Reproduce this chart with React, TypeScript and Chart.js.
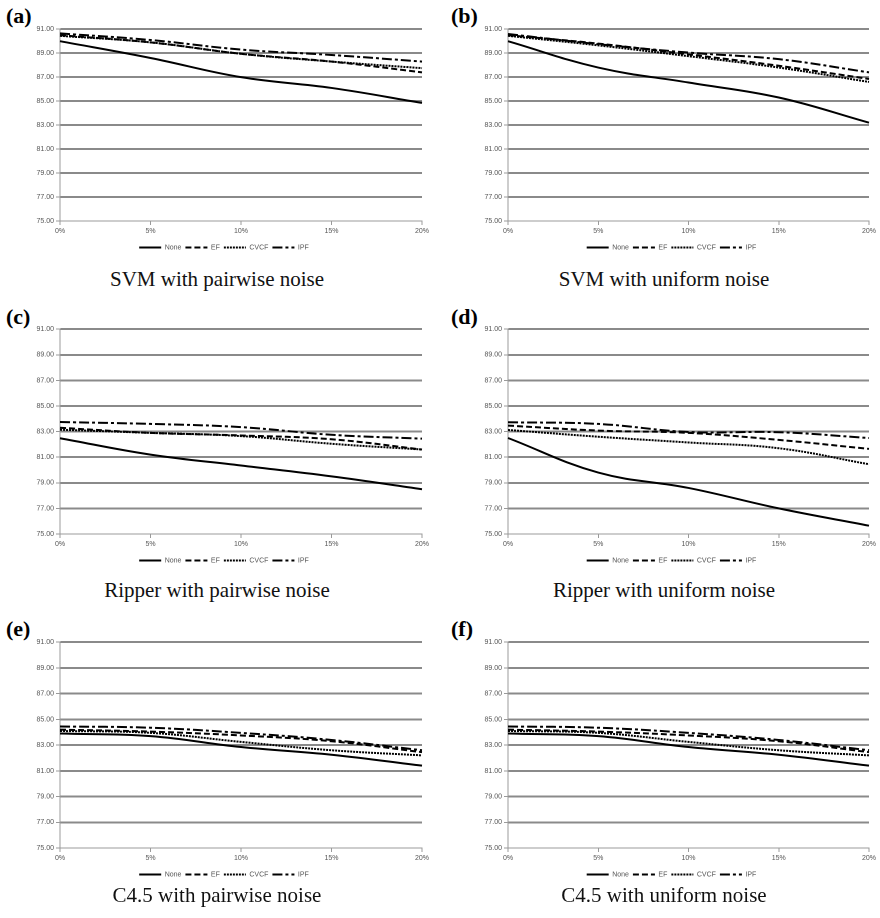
import React, { useEffect, useRef } from "react";
import { Chart, registerables } from "chart.js";

Chart.register(...registerables);

// ---------- data ----------
const noiseLevels = ["0%", "5%", "10%", "15%", "20%"];
const seriesNames = ["None", "EF", "CVCF", "IPF"];
const yMin = 75;
const yMax = 91;
const yStep = 2;

// (a) SVM with pairwise noise
const svmPairNone = [90.0, 88.6, 87.0, 86.1, 84.85];
const svmPairEF = [90.5, 89.9, 88.95, 88.3, 87.4];
const svmPairCVCF = [90.45, 89.9, 88.95, 88.3, 87.75];
const svmPairIPF = [90.65, 90.1, 89.3, 88.85, 88.3];

// (b) SVM with uniform noise
const svmUniNone = [90.0, 87.8, 86.55, 85.3, 83.2];
const svmUniEF = [90.5, 89.8, 88.9, 87.95, 86.85];
const svmUniCVCF = [90.45, 89.65, 88.75, 87.8, 86.6];
const svmUniIPF = [90.6, 89.75, 89.05, 88.5, 87.4];

// (c) Ripper with pairwise noise
const ripPairNone = [82.48, 81.2, 80.35, 79.5, 78.5];
const ripPairEF = [83.3, 82.9, 82.7, 82.4, 81.6];
const ripPairCVCF = [83.15, 82.9, 82.65, 82.05, 81.6];
const ripPairIPF = [83.75, 83.6, 83.35, 82.75, 82.45];

// (d) Ripper with uniform noise
const ripUniNone = [82.5, 79.8, 78.6, 77.0, 75.65];
const ripUniEF = [83.47, 83.08, 82.9, 82.35, 81.65];
const ripUniCVCF = [83.13, 82.6, 82.15, 81.7, 80.45];
const ripUniIPF = [83.73, 83.6, 82.97, 82.95, 82.5];

// (e) C4.5 with pairwise noise
const c45PairNone = [83.9, 83.7, 82.85, 82.25, 81.4];
const c45PairEF = [84.2, 84.05, 83.75, 83.3, 82.45];
const c45PairCVCF = [84.1, 83.95, 83.25, 82.6, 82.2];
const c45PairIPF = [84.45, 84.35, 83.95, 83.4, 82.6];

// (f) C4.5 with uniform noise
const c45UniNone = [83.9, 83.7, 82.85, 82.25, 81.4];
const c45UniEF = [84.2, 84.05, 83.75, 83.3, 82.45];
const c45UniCVCF = [84.1, 83.95, 83.25, 82.6, 82.2];
const c45UniIPF = [84.45, 84.35, 83.95, 83.4, 82.6];

// ---------- styles ----------
const dashes: number[][] = [[], [6, 3], [2, 1], [10, 3, 3, 3]];
const Y_AXIS_W = 34;
const X_AXIS_H = 19;
const PAD_TOP = 6;
const PAD_RIGHT = 14;
const LEGEND_H = 22.4;

type PanelDef = {
  tag: string;
  caption: string;
  series: number[][];
  plotLeft: number;
  plotTop: number;
  plotW: number;
  plotH: number;
  capCenter: number;
  capTop: number;
  tagLeft: number;
  tagTop: number;
};

const panels: PanelDef[] = [
  { tag: "(a)", caption: "SVM with pairwise noise", series: [svmPairNone, svmPairEF, svmPairCVCF, svmPairIPF], plotLeft: 60, plotTop: 29, plotW: 362, plotH: 191, capCenter: 217, capTop: 269, tagLeft: 6, tagTop: 5 },
  { tag: "(b)", caption: "SVM with uniform noise", series: [svmUniNone, svmUniEF, svmUniCVCF, svmUniIPF], plotLeft: 508, plotTop: 29, plotW: 361, plotH: 191, capCenter: 664, capTop: 269, tagLeft: 451, tagTop: 5 },
  { tag: "(c)", caption: "Ripper with pairwise noise", series: [ripPairNone, ripPairEF, ripPairCVCF, ripPairIPF], plotLeft: 60, plotTop: 329, plotW: 362, plotH: 204, capCenter: 217, capTop: 580, tagLeft: 6, tagTop: 306 },
  { tag: "(d)", caption: "Ripper with uniform noise", series: [ripUniNone, ripUniEF, ripUniCVCF, ripUniIPF], plotLeft: 508, plotTop: 329, plotW: 361, plotH: 204, capCenter: 664, capTop: 580, tagLeft: 451, tagTop: 306 },
  { tag: "(e)", caption: "C4.5 with pairwise noise", series: [c45PairNone, c45PairEF, c45PairCVCF, c45PairIPF], plotLeft: 60, plotTop: 642, plotW: 362, plotH: 205, capCenter: 217, capTop: 885, tagLeft: 6, tagTop: 618 },
  { tag: "(f)", caption: "C4.5 with uniform noise", series: [c45UniNone, c45UniEF, c45UniCVCF, c45UniIPF], plotLeft: 508, plotTop: 642, plotW: 361, plotH: 205, capCenter: 664, capTop: 885, tagLeft: 451, tagTop: 618 },
];

const tickFont = { family: "'Liberation Sans', Arial, sans-serif", size: 7 };

function Panel({ p }: { p: PanelDef }) {
  const ref = useRef<HTMLCanvasElement | null>(null);
  const cw = Y_AXIS_W + p.plotW + PAD_RIGHT;
  const ch = Math.round(PAD_TOP + p.plotH + X_AXIS_H + LEGEND_H);

  useEffect(() => {
    if (!ref.current) return;
    const chart = new Chart(ref.current, {
      type: "line",
      data: {
        labels: noiseLevels,
        datasets: p.series.map((vals, i) => ({
          label: seriesNames[i],
          data: vals,
          borderColor: "#000",
          backgroundColor: "#000",
          borderWidth: 2,
          borderDash: dashes[i],
          borderCapStyle: "butt" as const,
          pointRadius: 0,
          pointHoverRadius: 0,
          pointStyle: "line" as const,
          tension: 0.4,
          fill: false,
        })),
      },
      options: {
        animation: false,
        responsive: false,
        devicePixelRatio: 2,
        layout: { padding: { top: PAD_TOP, right: PAD_RIGHT, left: 0, bottom: 0 } },
        plugins: {
          tooltip: { enabled: false },
          legend: {
            position: "bottom",
            labels: {
              usePointStyle: true,
              pointStyleWidth: 22,
              boxHeight: 7,
              padding: 4,
              color: "#555",
              font: tickFont,
              generateLabels: (c: any) => {
                const base = (Chart.defaults.plugins.legend.labels as any).generateLabels(c);
                return base.map((it: any, i: number) => ({
                  ...it,
                  pointStyle: "line",
                  lineDash: dashes[i],
                  lineWidth: 2,
                  lineCap: "butt",
                  strokeStyle: "#000",
                  fillStyle: "#000",
                  fontColor: "#555",
                }));
              },
            },
          },
        },
        scales: {
          x: {
            type: "category",
            offset: false,
            afterFit: (s: any) => { s.height = X_AXIS_H; },
            grid: {
              drawOnChartArea: false,
              drawTicks: true,
              tickLength: 4,
              tickColor: "#9a9a9a",
              tickWidth: 1,
            },
            border: { display: true, color: "#9a9a9a", width: 1 },
            ticks: { color: "#555", font: tickFont, padding: 2, maxRotation: 0, autoSkip: false },
          },
          y: {
            min: yMin,
            max: yMax,
            afterFit: (s: any) => { s.width = Y_AXIS_W; },
            grid: {
              color: (c: any) => (c.tick && c.tick.value === yMin ? "rgba(0,0,0,0)" : "#8a8a8a"),
              lineWidth: 2,
              drawTicks: true,
              tickLength: 4,
              tickColor: "#9a9a9a",
              tickWidth: 1,
            },
            border: { display: true, color: "#9a9a9a", width: 1 },
            ticks: {
              stepSize: yStep,
              color: "#555",
              font: tickFont,
              padding: 2,
              callback: (v: any) => Number(v).toFixed(2),
            },
          },
        },
      },
    });
    return () => chart.destroy();
  }, []);

  return (
    <>
      <div
        style={{
          position: "absolute",
          left: p.tagLeft,
          top: p.tagTop,
          font: "bold 22px 'Liberation Serif', 'Times New Roman', serif",
          lineHeight: "22px",
          color: "#000",
        }}
      >
        {p.tag}
      </div>
      <canvas
        ref={ref}
        width={cw}
        height={ch}
        style={{ position: "absolute", left: p.plotLeft - Y_AXIS_W, top: p.plotTop - PAD_TOP, width: cw, height: ch }}
      />
      <div
        style={{
          position: "absolute",
          left: p.capCenter - 200,
          width: 400,
          top: p.capTop,
          textAlign: "center",
          font: "21px 'Liberation Serif', 'Times New Roman', serif",
          lineHeight: "21px",
          color: "#111",
        }}
      >
        {p.caption}
      </div>
    </>
  );
}

export default function App() {
  return (
    <div style={{ position: "absolute", left: 0, top: 0, width: 880, height: 918, background: "#fff", overflow: "hidden" }}>
      {panels.map((p) => (
        <Panel key={p.tag} p={p} />
      ))}
    </div>
  );
}
